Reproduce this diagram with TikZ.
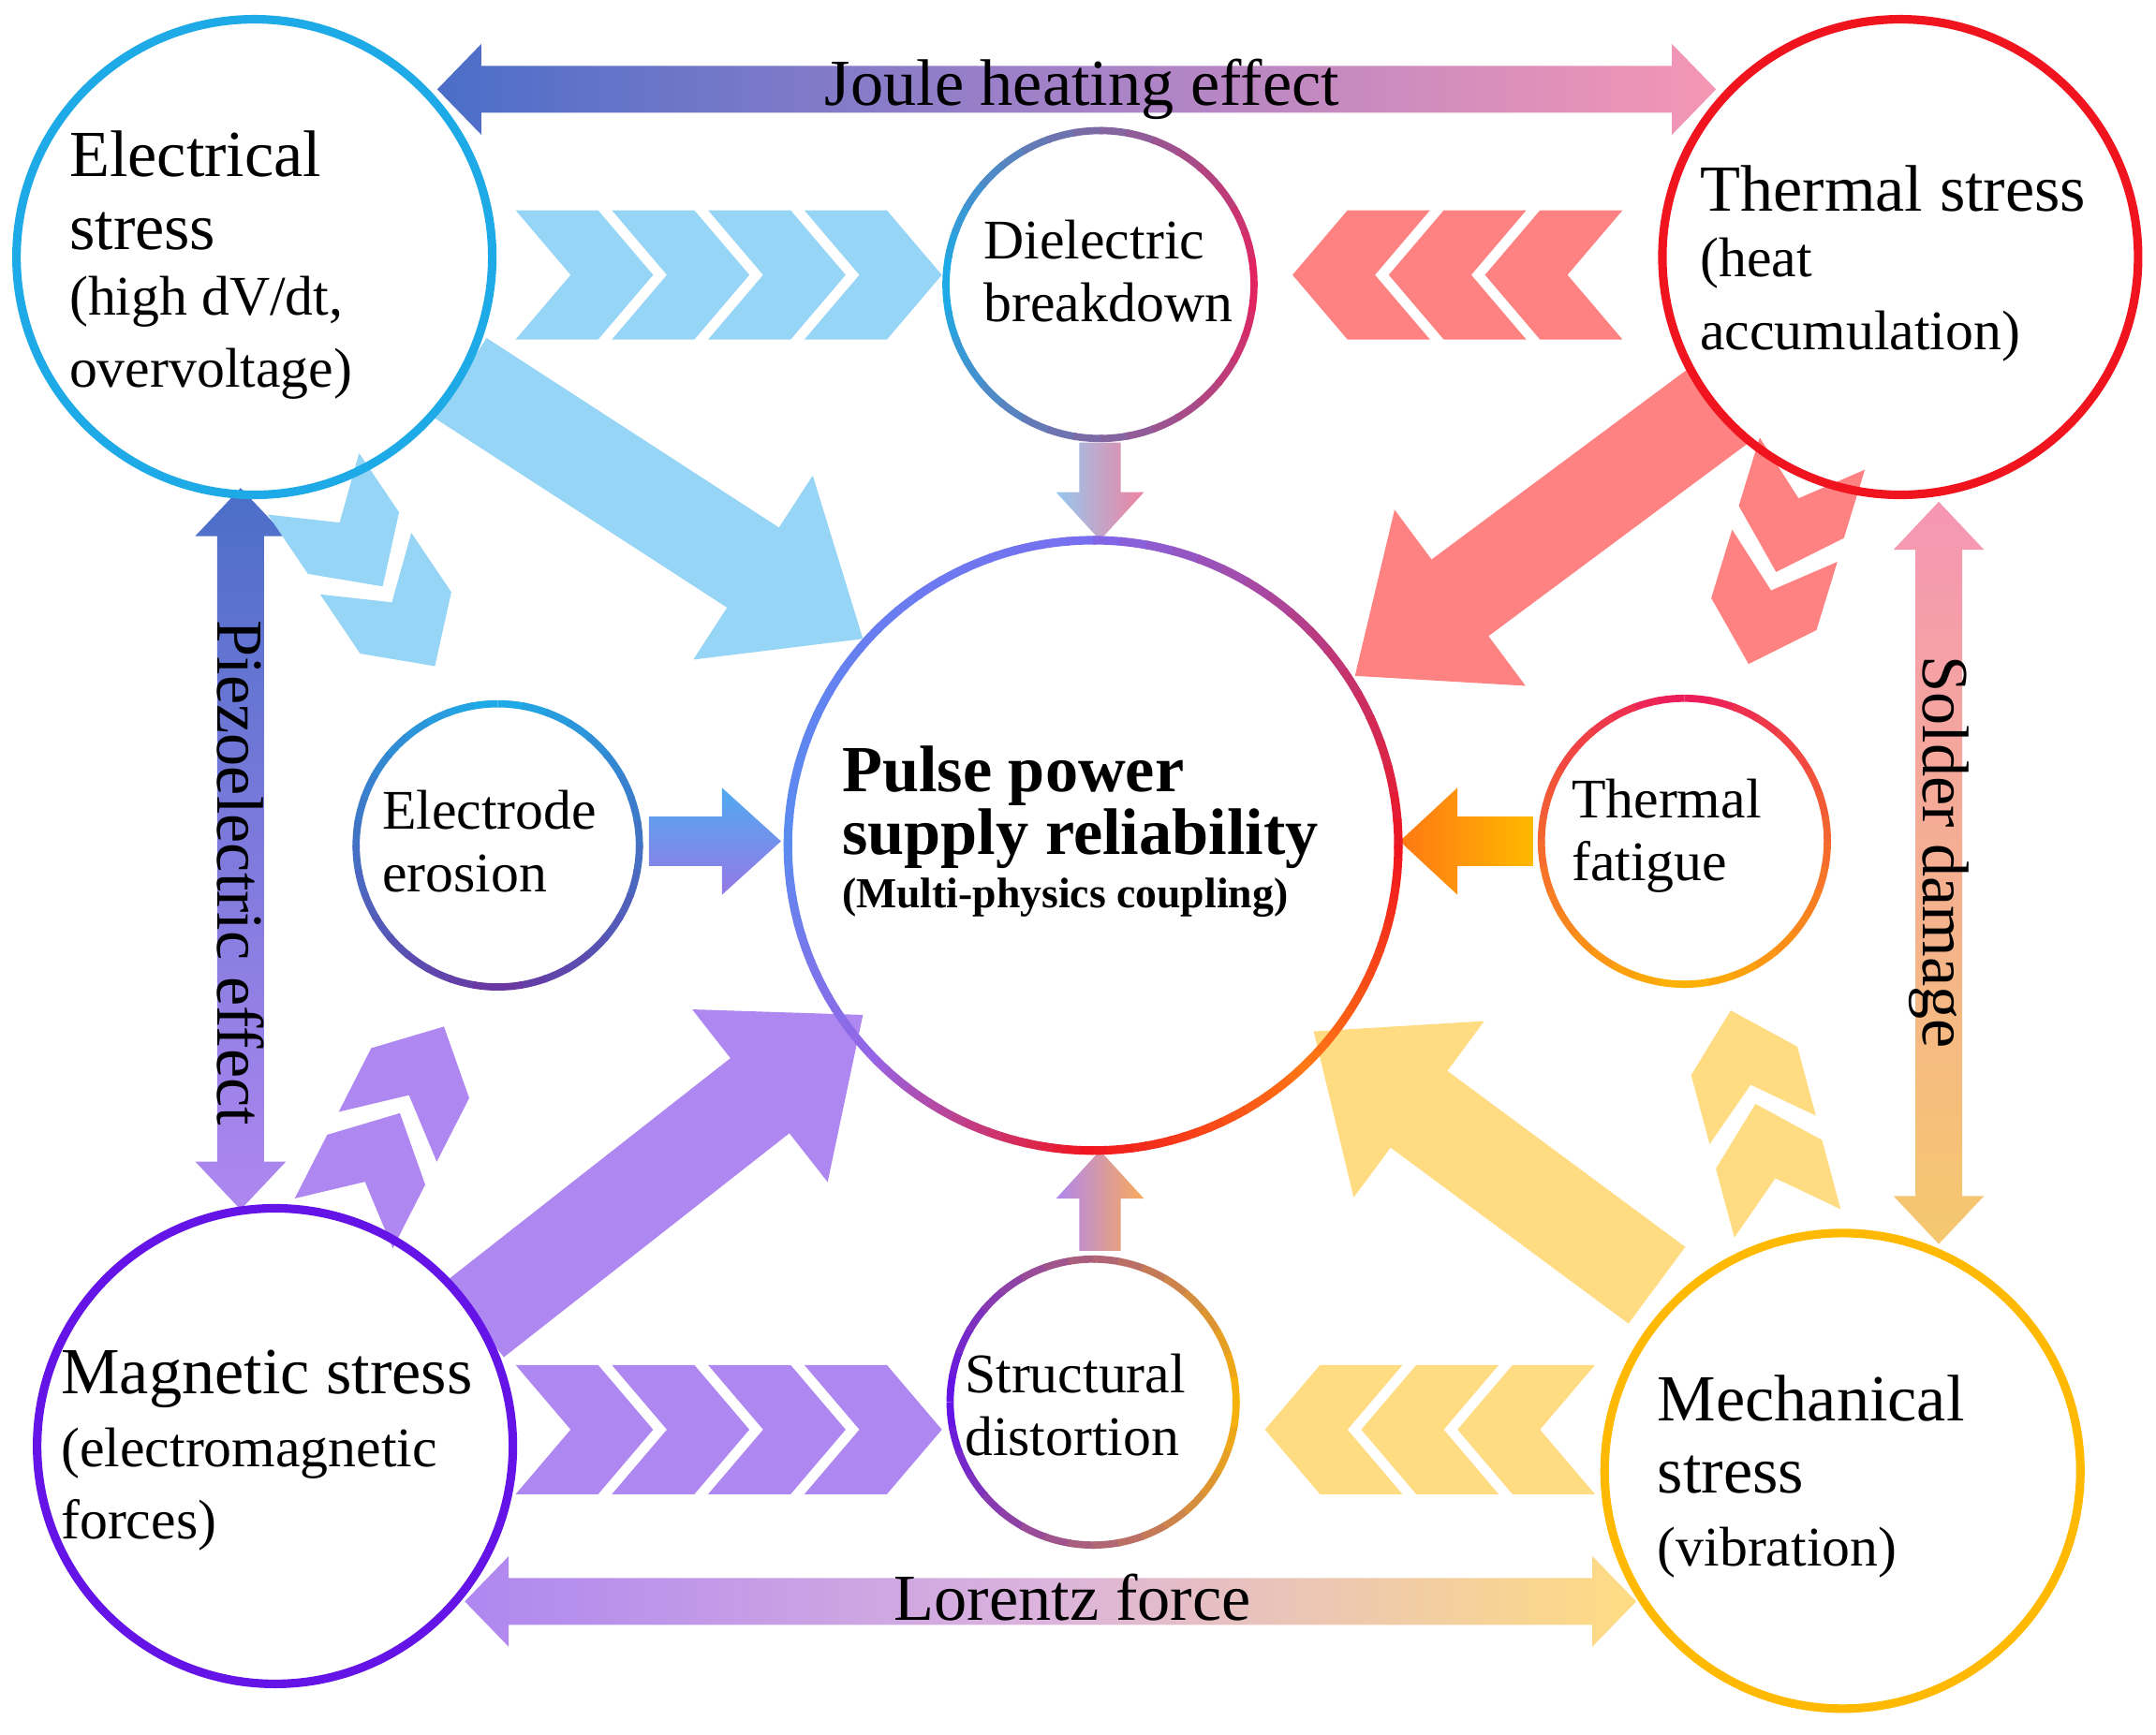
\documentclass[tikz,border=0pt]{standalone}
\usepackage{fontspec}
\setmainfont{Liberation Serif}
\usetikzlibrary{arrows.meta, calc}
\definecolor{ecyan}{RGB}{30,170,230}
\definecolor{tred}{RGB}{240,20,30}
\definecolor{mviolet}{RGB}{100,20,230}
\definecolor{myellow}{RGB}{255,185,0}
\definecolor{lcyan}{RGB}{150,213,245}
\definecolor{lsalmon}{RGB}{255,130,130}
\definecolor{llav}{RGB}{175,135,240}
\definecolor{lyel}{RGB}{255,220,130}
\definecolor{jblue}{RGB}{75,110,200}
\definecolor{jpink}{RGB}{245,150,180}
\definecolor{jpurple}{RGB}{165,130,200}
\definecolor{lpurple}{RGB}{220,180,220}
\definecolor{dpurple}{RGB}{110,50,160}
\definecolor{crim}{RGB}{235,30,90}
\definecolor{cblue}{RGB}{90,140,240}
\definecolor{bviolet}{RGB}{120,110,240}
\definecolor{mpurple}{RGB}{130,100,230}
\definecolor{ppurple}{RGB}{150,100,230}
\definecolor{orng}{RGB}{255,120,20}
\definecolor{sandy}{RGB}{245,200,110}
\definecolor{skyb}{RGB}{150,200,240}
\definecolor{pinkr}{RGB}{240,130,160}
\definecolor{lorng}{RGB}{250,170,90}
\definecolor{aqua}{RGB}{80,170,240}
\definecolor{vlav}{RGB}{150,120,230}
\tikzset{
  chev/.pic={\fill[pic actions] (0,-47) -- (60,-47) -- (100,0) -- (60,47) -- (0,47) -- (40,0) -- cycle;},
  schev/.pic={\fill[pic actions] (0,-40) -- (52,-40) -- (90,0) -- (52,40) -- (0,40) -- (34,0) -- cycle;},
  big/.style={line width=29pt, -{Triangle[width=64pt,length=40pt]}},
  bigtxt/.style={font=\fontsize{20}{22}\selectfont, align=left, anchor=north west, inner sep=0pt},
  smtxt/.style={font=\fontsize{17}{19}\selectfont, align=left},
}
% gradient ring: centre, radius, from angle, to angle, colours, width
\newcommand{\gring}[7]{%
  \foreach \ang in {0,5,...,85} {%
    \pgfmathtruncatemacro\p{100-\ang*100/90}%
    \pgfmathsetmacro\sa{#3+(#4-#3)*\ang/90}%
    \pgfmathsetmacro\ea{#3+(#4-#3)*(\ang+5.5)/90}%
    \colorlet{segc}{#5!\p!#6}%
    \draw[line width=#7, segc] ($(#1)+(\sa:#2)$) arc (\sa:\ea:#2);
  }}
\begin{document}
\begin{tikzpicture}[x=0.01468cm, y=-0.01468cm]
\useasboundingbox (0,0) rectangle (1568,1262);
% centres
\coordinate (elec) at (185,187);
\coordinate (therm) at (1382,187);
\coordinate (magn) at (200,1052);
\coordinate (mech) at (1340,1070);
\coordinate (core) at (795,615);
\coordinate (diel) at (800,207);
\coordinate (erod) at (362,615);
\coordinate (fatg) at (1225,612);
\coordinate (dist) at (795,1020);

% double arrows
\shade[left color=jblue, right color=jpink, middle color=jpurple]
  (318,65) -- (350,32) -- (350,48) -- (1216,48) -- (1216,32) -- (1248,65) -- (1216,98) -- (1216,82) -- (350,82) -- (350,98) -- cycle;
\shade[left color=llav, right color=lyel, middle color=lpurple]
  (338,1165) -- (370,1132) -- (370,1148) -- (1158,1148) -- (1158,1132) -- (1190,1165) -- (1158,1198) -- (1158,1182) -- (370,1182) -- (370,1198) -- cycle;
\shade[top color=jblue, bottom color=llav]
  (175,355) -- (208,390) -- (192,390) -- (192,845) -- (208,845) -- (175,880) -- (142,845) -- (158,845) -- (158,390) -- (142,390) -- cycle;
\shade[top color=jpink, bottom color=sandy]
  (1410,365) -- (1443,400) -- (1427,400) -- (1427,870) -- (1443,870) -- (1410,905) -- (1377,870) -- (1393,870) -- (1393,400) -- (1377,400) -- cycle;
\node (joule) at (787,65) {\fontsize{20}{22}\selectfont Joule heating effect};
\node (lorentz) at (780,1162) {\fontsize{20}{22}\selectfont Lorentz force};
\node[rotate=-90] (piezo) at (175,635) {\fontsize{20}{22}\selectfont Piezoelectric effect};
\node[rotate=-90] (solder) at (1410,620) {\fontsize{20}{22}\selectfont Solder damage};

% big arrows
\coordinate (e1) at (335,275); \coordinate (e2) at (628,465);
\coordinate (t1) at (1250,295); \coordinate (t2) at (985,492);
\coordinate (m1) at (345,960); \coordinate (m2) at (628,738);
\coordinate (k1) at (1205,935); \coordinate (k2) at (955,750);
\draw[big, lcyan] (e1) -- (e2);
\draw[big, lsalmon] (t1) -- (t2);
\draw[big, llav] (m1) -- (m2);
\draw[big, lyel] (k1) -- (k2);

% chevrons
\foreach \x in {375,445,515,585} {
  \pic[lcyan] at (\x,200) {chev};
  \pic[llav] at (\x,1040) {chev};
}
\foreach \x in {1180,1110,1040} {
  \pic[lsalmon, rotate=180] at (\x,200) {chev};
  \pic[lyel, rotate=180] at (\x-20,1040) {chev};
}
\pic[lcyan, rotate=-56] at (228,352) {schev};
\pic[lcyan, rotate=-56] at (266,410) {schev};
\pic[llav, rotate=63] at (250,890) {schev};
\pic[llav, rotate=63] at (282,827) {schev};
\pic[lsalmon, rotate=-107] at (1318,330) {schev};
\pic[lsalmon, rotate=-107] at (1298,397) {schev};
\pic[lyel, rotate=105] at (1300,890) {schev};
\pic[lyel, rotate=105] at (1282,822) {schev};

% small arrows
\shade[left color=skyb, right color=pinkr]
  (785,322) -- (815,322) -- (815,358) -- (832,358) -- (800,393) -- (768,358) -- (785,358) -- cycle;
\shade[left color=llav, right color=lorng]
  (785,910) -- (815,910) -- (815,872) -- (832,872) -- (800,837) -- (768,872) -- (785,872) -- cycle;
\shade[top color=aqua, bottom color=vlav]
  (472,594) -- (525,594) -- (525,573) -- (568,612) -- (525,651) -- (525,630) -- (472,630) -- cycle;
\shade[left color=orng, right color=myellow]
  (1115,594) -- (1060,594) -- (1060,573) -- (1018,612) -- (1060,651) -- (1060,630) -- (1115,630) -- cycle;

% rings
\draw[ecyan, line width=2.6pt] (elec) circle (173);
\draw[tred, line width=2.6pt] (therm) circle (173);
\draw[mviolet, line width=2.6pt] (magn) circle (173);
\draw[myellow, line width=2.6pt] (mech) circle (173);
\gring{core}{222}{180}{270}{cblue}{bviolet}{2.6pt}
\gring{core}{222}{270}{360}{mpurple}{tred}{2.6pt}
\gring{core}{222}{0}{45}{tred}{orng}{2.6pt}
\gring{core}{222}{45}{90}{orng}{tred}{2.6pt}
\gring{core}{222}{90}{135}{tred}{ppurple}{2.6pt}
\gring{core}{222}{135}{180}{ppurple}{cblue}{2.6pt}
\gring{diel}{112}{180}{360}{ecyan}{crim}{2.2pt}
\gring{diel}{112}{180}{0}{ecyan}{crim}{2.2pt}
\gring{erod}{103}{-90}{90}{ecyan}{dpurple}{2.2pt}
\gring{erod}{103}{-90}{-270}{ecyan}{dpurple}{2.2pt}
\gring{fatg}{104}{-90}{90}{crim}{myellow}{2.2pt}
\gring{fatg}{104}{-90}{-270}{crim}{myellow}{2.2pt}
\gring{dist}{104}{180}{360}{mviolet}{myellow}{2.2pt}
\gring{dist}{104}{180}{0}{mviolet}{myellow}{2.2pt}

% texts
\node[bigtxt] (elecT) at (50,95) {Electrical\\stress\\[-2pt]{\fontsize{17}{20}\selectfont (high dV/dt,}\\{\fontsize{17}{20}\selectfont overvoltage)}};
\node[bigtxt] (thermT) at (1236,120) {Thermal stress\\[-2pt]{\fontsize{17}{20}\selectfont (heat}\\{\fontsize{17}{20}\selectfont accumulation)}};
\node[bigtxt] (magnT) at (44,982) {Magnetic stress\\{\fontsize{17}{20}\selectfont (electromagnetic}\\{\fontsize{17}{20}\selectfont forces)}};
\node[bigtxt] (mechT) at (1205,1000) {Mechanical\\stress\\{\fontsize{17}{20}\selectfont (vibration)}};
\node[smtxt] (dielT) at (806,197) {Dielectric\\breakdown};
\node[smtxt] (erodT) at (356,612) {Electrode\\erosion};
\node[smtxt] (fatgT) at (1212,608) {Thermal\\fatigue};
\node[smtxt] (distT) at (782,1022) {Structural\\distortion};
\node[anchor=north west, align=left, inner sep=0pt, font=\bfseries] (coreT) at (612,542)
  {\fontsize{20}{22}\selectfont Pulse power\\\fontsize{20}{22}\selectfont supply reliability\\[2pt]\fontsize{13}{15}\selectfont (Multi-physics coupling)};
\end{tikzpicture}
\end{document}
